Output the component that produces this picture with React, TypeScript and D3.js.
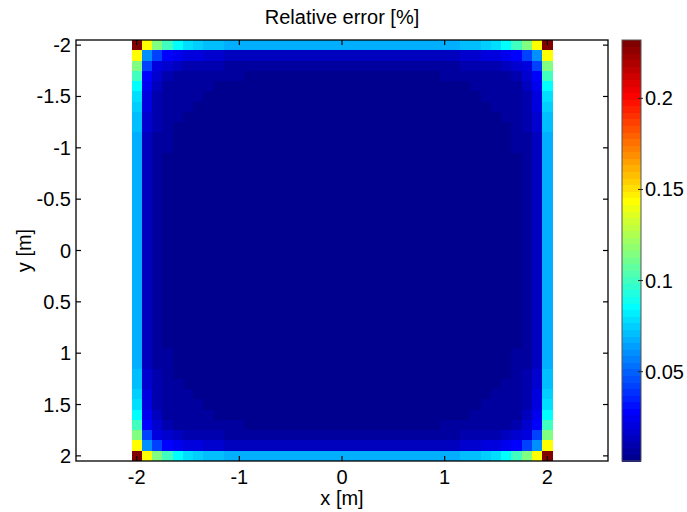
import React from 'react';
import * as d3 from 'd3';

// ---- data ----
const xTicks = [-2, -1, 0, 1, 2];
const yTicks = [-2, -1.5, -1, -0.5, 0, 0.5, 1, 1.5, 2];
const colorbarTicks = [0.05, 0.1, 0.15, 0.2];
const gridCoords = d3.range(41).map((i) => +(-2 + i * 0.1).toFixed(1));
// relative error [%] by ring (distance from the border), listed from the corner toward the middle of a side
const ring0 = [0.232, 0.143, 0.115, 0.100, 0.086, 0.079, 0.075, 0.072, 0.070, 0.069, 0.068, 0.068, 0.068, 0.068, 0.068, 0.068, 0.068, 0.068, 0.068, 0.068, 0.068];
const ring1 = [0.061, 0.042, 0.029, 0.025, 0.021, 0.020, 0.017, 0.016, 0.014, 0.014, 0.014, 0.014, 0.014, 0.014, 0.014, 0.014, 0.014, 0.014, 0.014, 0.014];
const ring2 = [0.021, 0.017, 0.014, 0.011, 0.010, 0.010, 0.009, 0.008, 0.007, 0.007, 0.007, 0.007, 0.007, 0.007, 0.007, 0.007, 0.007, 0.007, 0.007];
const ring3 = [0.010, 0.008, 0.007, 0.007, 0.006, 0.006, 0.005, 0.005, 0.004, 0.004, 0.004, 0.004, 0.004, 0.004, 0.004, 0.004, 0.004, 0.004];
const ring4 = [0.007, 0.006, 0.005, 0.005, 0.004, 0.004, 0.004, 0.004, 0.004, 0.004, 0.004, 0.004, 0.004, 0.004, 0.004, 0.004, 0.004];
const ring5 = [0.005, 0.005, 0.004, 0.004, 0.004, 0.004, 0.004, 0.004, 0.004, 0.004, 0.004, 0.004, 0.004, 0.004, 0.004, 0.004];
const interiorValue = 0.003;
const colorMin = 0.001;
const colorMax = 0.232;

const rings = [ring0, ring1, ring2, ring3, ring4, ring5];

function cellValue(i: number, j: number): number {
  const n = gridCoords.length - 1;
  const a = Math.min(i, n - i);
  const b = Math.min(j, n - j);
  const lo = Math.min(a, b);
  const hi = Math.max(a, b);
  if (lo < rings.length) return rings[lo][hi - lo];
  return interiorValue;
}

// MATLAB jet(64)
function jet64(): string[] {
  const out: string[] = [];
  for (let k = 1; k <= 64; k++) {
    let r = 0, g = 0, b = 0;
    if (k >= 25 && k <= 40) r = (k - 24) / 16;
    else if (k >= 41 && k <= 55) r = 1;
    else if (k >= 56) r = (72 - k) / 16;
    if (k >= 9 && k <= 24) g = (k - 8) / 16;
    else if (k >= 25 && k <= 39) g = 1;
    else if (k >= 40 && k <= 55) g = (56 - k) / 16;
    if (k <= 8) b = (k + 8) / 16;
    else if (k <= 23) b = 1;
    else if (k <= 39) b = (40 - k) / 16;
    out.push(d3.rgb(Math.round(r * 255), Math.round(g * 255), Math.round(b * 255)).formatHex());
  }
  return out;
}
const palette = jet64();
function colorOf(v: number): string {
  let k = Math.floor(((v - colorMin) / (colorMax - colorMin)) * 64);
  k = Math.max(0, Math.min(63, k));
  return palette[k];
}

const W = 687, H = 512;
const L = 76, R = 608, T = 40, B = 461;
const CBL = 622, CBR = 641;
const FONT = 'Liberation Sans, Arial, Helvetica, sans-serif';
const FS = 20;

export default function App() {
  const x = d3.scaleLinear().domain([-2.591, 2.591]).range([L, R]);
  const y = d3.scaleLinear().domain([-2.05, 2.05]).range([T, B]);
  const cy = d3.scaleLinear().domain([colorMin, colorMax]).range([B, T]);
  const half = 0.05;
  const cells: JSX.Element[] = [];
  gridCoords.forEach((gy, j) => {
    gridCoords.forEach((gx, i) => {
      const x0 = x(gx - half), x1 = x(gx + half);
      const y0 = y(gy - half), y1 = y(gy + half);
      cells.push(
        <rect key={`${i}-${j}`} x={x0} y={y0} width={x1 - x0 + 0.4} height={y1 - y0 + 0.4}
          fill={colorOf(cellValue(i, j))} />
      );
    });
  });
  const bandH = (B - T) / 64;
  return (
    <svg width={W} height={H} style={{ position: 'absolute', left: 0, top: 0, background: '#fff' }}
      fontFamily={FONT}>
      <rect x={0} y={0} width={W} height={H} fill="#fff" />
      <g shapeRendering="crispEdges">{cells}</g>
      {/* axes box */}
      <rect x={L} y={T} width={R - L} height={B - T} fill="none" stroke="#000" strokeWidth={1.3} />
      {xTicks.map((t) => (
        <g key={`xt${t}`}>
          <line x1={x(t)} x2={x(t)} y1={B} y2={B - 5} stroke="#000" strokeWidth={1.2} />
          <line x1={x(t)} x2={x(t)} y1={T} y2={T + 5} stroke="#000" strokeWidth={1.2} />
          <text x={x(t)} y={484} fontSize={FS} textAnchor="middle">{t}</text>
        </g>
      ))}
      {yTicks.map((t) => (
        <g key={`yt${t}`}>
          <line x1={L} x2={L + 5} y1={y(t)} y2={y(t)} stroke="#000" strokeWidth={1.2} />
          <line x1={R} x2={R - 5} y1={y(t)} y2={y(t)} stroke="#000" strokeWidth={1.2} />
          <text x={71} y={y(t)} dy="0.35em" fontSize={FS} textAnchor="end">{t}</text>
        </g>
      ))}
      <text x={(L + R) / 2} y={505} fontSize={FS} textAnchor="middle">x [m]</text>
      <text transform={`translate(31,${(T + B) / 2}) rotate(-90)`} fontSize={FS} textAnchor="middle">y [m]</text>
      <text x={(L + R) / 2} y={24} fontSize={FS} textAnchor="middle">Relative error [%]</text>
      {/* colorbar */}
      <g shapeRendering="crispEdges">
        {palette.map((c, k) => (
          <rect key={`cb${k}`} x={CBL} y={B - (k + 1) * bandH} width={CBR - CBL} height={bandH + 0.5} fill={c} />
        ))}
      </g>
      <rect x={CBL} y={T} width={CBR - CBL} height={B - T} fill="none" stroke="#555" strokeWidth={1} />
      {colorbarTicks.map((t) => (
        <g key={`ct${t}`}>
          <line x1={CBR - 3} x2={CBR + 2} y1={cy(t)} y2={cy(t)} stroke="#222" strokeWidth={1} />
          <text x={645} y={cy(t)} dy="0.35em" fontSize={FS}>{t}</text>
        </g>
      ))}
    </svg>
  );
}
